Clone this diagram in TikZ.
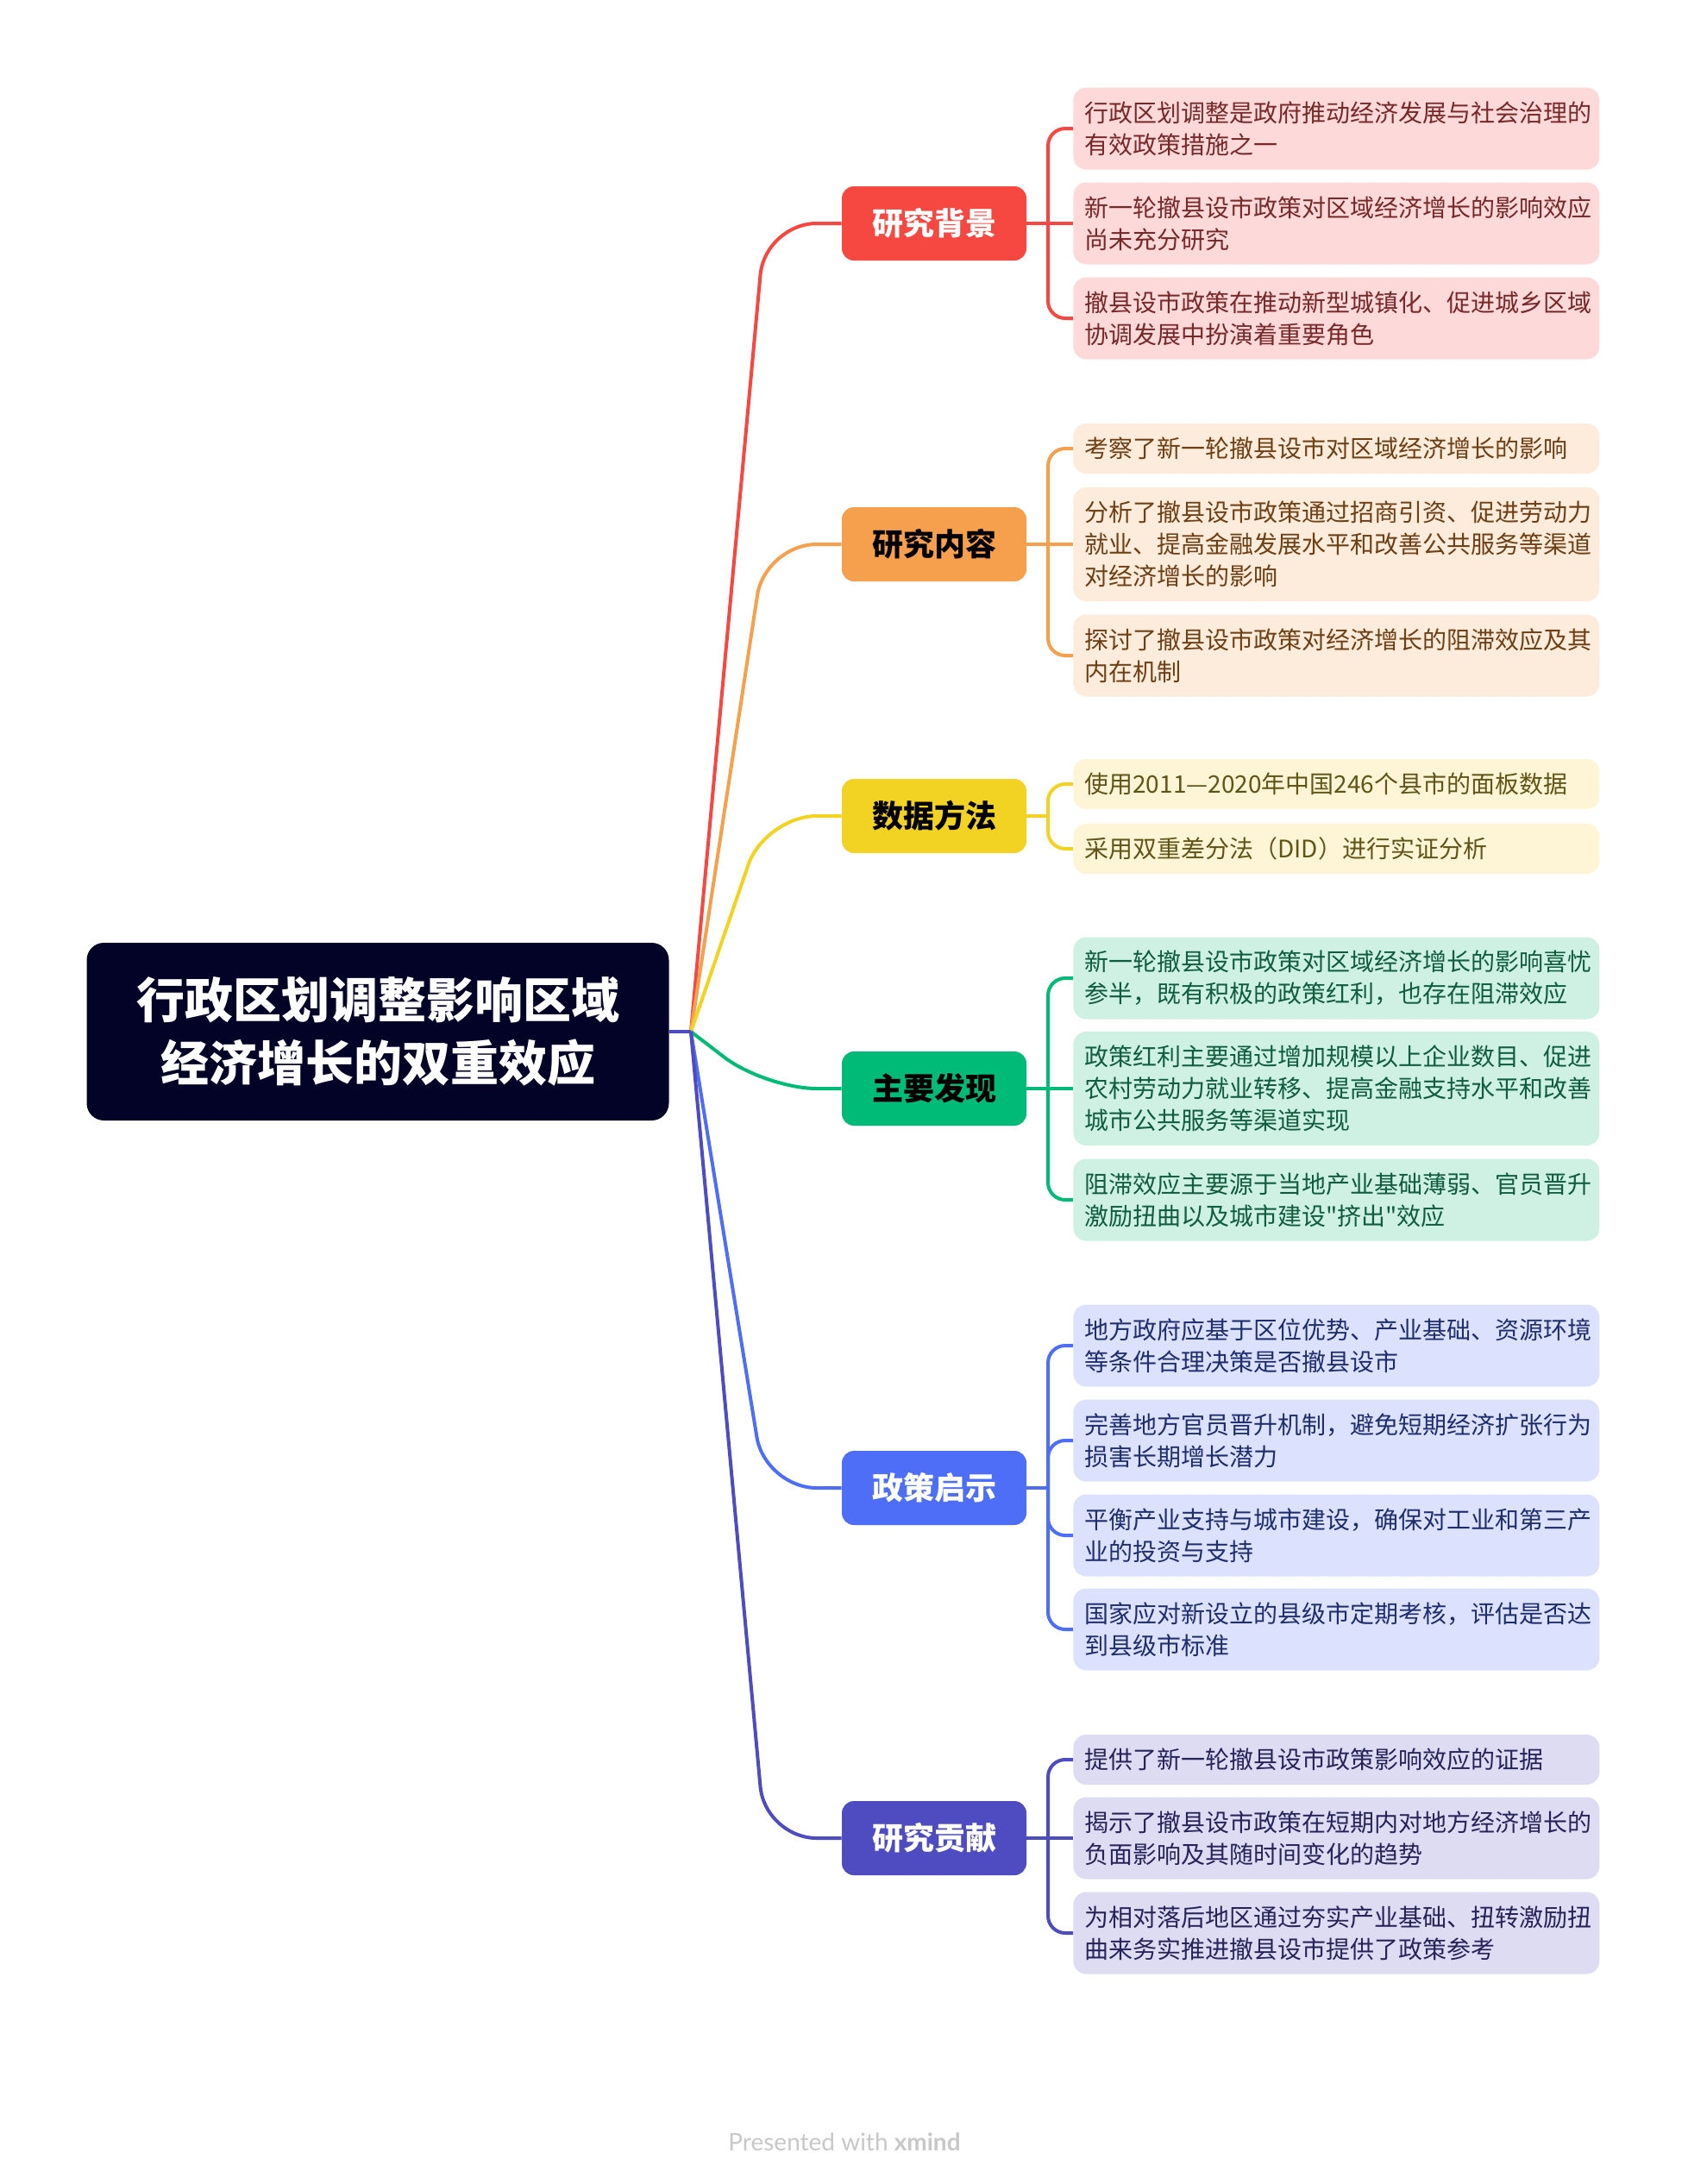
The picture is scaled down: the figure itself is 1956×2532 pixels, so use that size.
\documentclass[tikz,border=0pt]{standalone}
\usepackage{fontspec}
\setmainfont{Noto Sans CJK SC}[Ligatures=TeXOff]
\newfontfamily\footfont{Lato}
\definecolor{rootc}{RGB}{3,3,40}
\definecolor{rdB}{RGB}{246,71,64}\definecolor{rdL}{RGB}{253,217,217}\definecolor{rdT}{RGB}{120,40,40}
\definecolor{orB}{RGB}{246,160,77}\definecolor{orL}{RGB}{253,235,219}\definecolor{orT}{RGB}{110,62,20}
\definecolor{yeB}{RGB}{242,211,35}\definecolor{yeL}{RGB}{253,245,213}\definecolor{yeT}{RGB}{97,84,24}
\definecolor{grB}{RGB}{0,186,119}\definecolor{grL}{RGB}{206,241,227}\definecolor{grT}{RGB}{15,92,62}
\definecolor{blB}{RGB}{78,110,247}\definecolor{blL}{RGB}{220,226,253}\definecolor{blT}{RGB}{30,45,110}
\definecolor{inB}{RGB}{79,75,193}\definecolor{inL}{RGB}{221,220,242}\definecolor{inT}{RGB}{38,35,90}
\definecolor{footc}{RGB}{200,200,200}
\tikzset{
  leaf/.style={rounded corners=7.5pt, text width=292pt, inner xsep=6.5pt, inner ysep=0pt,
    align=left, anchor=west, font=\fontsize{14pt}{18.5pt}\selectfont},
  oneline/.style={minimum height=29pt},
  twoline/.style={minimum height=47.5pt},
  threeline/.style={minimum height=66pt},
  branch/.style={rounded corners=7pt, minimum width=107pt, minimum height=43pt, inner sep=0pt,
    font=\bfseries\fontsize{18pt}{22pt}\selectfont},
  conn/.style={line width=2pt, rounded corners=30pt},
  leg/.style={line width=2pt, rounded corners=10pt},
}
\begin{document}
\begin{tikzpicture}[x=0.5pt,y=-0.5pt]
\useasboundingbox (0,0) rectangle (1956,2532);
\fill[white] (0,0) rectangle (1956,2532);

% root
\node[fill=rootc, text=white, rounded corners=10pt, minimum width=337.5pt, minimum height=103pt,
  inner sep=0pt, align=center, font=\bfseries\fontsize{28pt}{36.5pt}\selectfont] (root) at (438,1196)
  {\raisebox{-2.5pt}{行政区划调整影响区域}\\\raisebox{-2.5pt}{经济增长的双重效应}};
\coordinate (hub) at (801,1196);

% branches
\node[branch, fill=rdB, text=white] (b1) at (1083,259) {研究背景};
\node[branch, fill=orB, text=black] (b2) at (1083,631) {研究内容};
\node[branch, fill=yeB, text=black] (b3) at (1083,946) {数据方法};
\node[branch, fill=grB, text=black] (b4) at (1083,1262) {主要发现};
\node[branch, fill=blB, text=white] (b5) at (1083,1725) {政策启示};
\node[branch, fill=inB, text=white] (b6) at (1083,2131) {研究贡献};

% root to branches
\draw[conn, rdB] (hub) -- (887,259) -- (b1.west);
\draw[conn, orB] (hub) -- (887,631) -- (b2.west);
\draw[conn, yeB] (hub) -- (887,946) -- (b3.west);
\draw[conn, grB] (hub) -- (887,1262) -- (b4.west);
\draw[conn, blB] (hub) -- (887,1725) -- (b5.west);
\draw[conn, inB] (hub) -- (887,2131) -- (b6.west);
\draw[line width=2pt, inB] (root.east) -- (hub);

% leaves: 研究背景
\node[leaf, twoline, fill=rdL, text=rdT] (a1) at (1244,149) {行政区划调整是政府推动经济发展与社会治理的\\有效政策措施之一};
\node[leaf, twoline, fill=rdL, text=rdT] (a2) at (1244,259) {新一轮撤县设市政策对区域经济增长的影响效应\\尚未充分研究};
\node[leaf, twoline, fill=rdL, text=rdT] (a3) at (1244,369) {撤县设市政策在推动新型城镇化、促进城乡区域\\协调发展中扮演着重要角色};
\coordinate (k1) at (1215,259);
\draw[line width=2pt, rdB] (b1.east) -- (k1);
\draw[leg, rdB] (k1) -- (1215,149) -- (a1.west);
\draw[leg, rdB] (k1) -- (a2.west);
\draw[leg, rdB] (k1) -- (1215,369) -- (a3.west);

% leaves: 研究内容
\node[leaf, oneline, fill=orL, text=orT] (c1) at (1244,520) {考察了新一轮撤县设市对区域经济增长的影响};
\node[leaf, threeline, fill=orL, text=orT] (c2) at (1244,631) {分析了撤县设市政策通过招商引资、促进劳动力\\就业、提高金融发展水平和改善公共服务等渠道\\对经济增长的影响};
\node[leaf, twoline, fill=orL, text=orT] (c3) at (1244,760) {探讨了撤县设市政策对经济增长的阻滞效应及其\\内在机制};
\coordinate (k2) at (1215,631);
\draw[line width=2pt, orB] (b2.east) -- (k2);
\draw[leg, orB] (k2) -- (1215,520) -- (c1.west);
\draw[leg, orB] (k2) -- (c2.west);
\draw[leg, orB] (k2) -- (1215,760) -- (c3.west);

% leaves: 数据方法
\node[leaf, oneline, fill=yeL, text=yeT] (d1) at (1244,909) {使用2011—2020年中国246个县市的面板数据};
\node[leaf, oneline, fill=yeL, text=yeT] (d2) at (1244,984) {采用双重差分法（DID）进行实证分析};
\coordinate (k3) at (1215,946);
\draw[line width=2pt, yeB] (b3.east) -- (k3);
\draw[leg, yeB] (k3) -- (1215,909) -- (d1.west);
\draw[leg, yeB] (k3) -- (1215,984) -- (d2.west);

% leaves: 主要发现
\node[leaf, twoline, fill=grL, text=grT] (e1) at (1244,1134) {新一轮撤县设市政策对区域经济增长的影响喜忧\\参半，既有积极的政策红利，也存在阻滞效应};
\node[leaf, threeline, fill=grL, text=grT] (e2) at (1244,1262) {政策红利主要通过增加规模以上企业数目、促进\\农村劳动力就业转移、提高金融支持水平和改善\\城市公共服务等渠道实现};
\node[leaf, twoline, fill=grL, text=grT] (e3) at (1244,1391) {阻滞效应主要源于当地产业基础薄弱、官员晋升\\激励扭曲以及城市建设"挤出"效应};
\coordinate (k4) at (1215,1262);
\draw[line width=2pt, grB] (b4.east) -- (k4);
\draw[leg, grB] (k4) -- (1215,1134) -- (e1.west);
\draw[leg, grB] (k4) -- (e2.west);
\draw[leg, grB] (k4) -- (1215,1391) -- (e3.west);

% leaves: 政策启示
\node[leaf, twoline, fill=blL, text=blT] (f1) at (1244,1560) {地方政府应基于区位优势、产业基础、资源环境\\等条件合理决策是否撤县设市};
\node[leaf, twoline, fill=blL, text=blT] (f2) at (1244,1670) {完善地方官员晋升机制，避免短期经济扩张行为\\损害长期增长潜力};
\node[leaf, twoline, fill=blL, text=blT] (f3) at (1244,1780) {平衡产业支持与城市建设，确保对工业和第三产\\业的投资与支持};
\node[leaf, twoline, fill=blL, text=blT] (f4) at (1244,1889) {国家应对新设立的县级市定期考核，评估是否达\\到县级市标准};
\coordinate (k5) at (1215,1725);
\draw[line width=2pt, blB] (b5.east) -- (k5);
\draw[leg, blB] (k5) -- (1215,1560) -- (f1.west);
\draw[leg, blB] (k5) -- (1215,1670) -- (f2.west);
\draw[leg, blB] (k5) -- (1215,1780) -- (f3.west);
\draw[leg, blB] (k5) -- (1215,1889) -- (f4.west);

% leaves: 研究贡献
\node[leaf, oneline, fill=inL, text=inT] (g1) at (1244,2040) {提供了新一轮撤县设市政策影响效应的证据};
\node[leaf, twoline, fill=inL, text=inT] (g2) at (1244,2131) {揭示了撤县设市政策在短期内对地方经济增长的\\负面影响及其随时间变化的趋势};
\node[leaf, twoline, fill=inL, text=inT] (g3) at (1244,2241) {为相对落后地区通过夯实产业基础、扭转激励扭\\曲来务实推进撤县设市提供了政策参考};
\coordinate (k6) at (1215,2131);
\draw[line width=2pt, inB] (b6.east) -- (k6);
\draw[leg, inB] (k6) -- (1215,2040) -- (g1.west);
\draw[leg, inB] (k6) -- (g2.west);
\draw[leg, inB] (k6) -- (1215,2241) -- (g3.west);

% footer
\node[text=footc, font=\footfont\fontsize{14pt}{16pt}\selectfont] (foot) at (979,2483) {Presented with \textbf{xmind}};
\end{tikzpicture}
\end{document}
